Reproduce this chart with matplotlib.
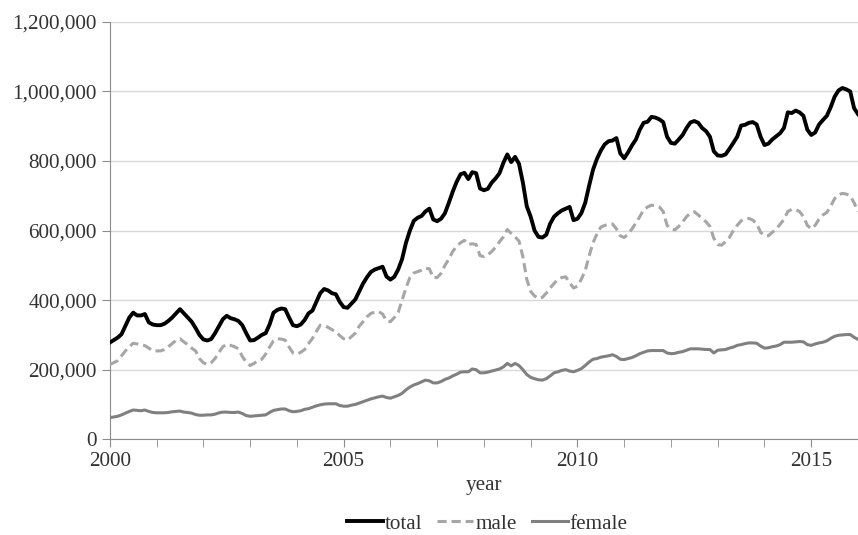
import numpy as np
import matplotlib
matplotlib.use('Agg')
import matplotlib.pyplot as plt
from matplotlib.ticker import FuncFormatter, MultipleLocator

# monthly values, thousands (Jan 2000 .. Jan 2016)
total = [278, 285, 292, 302, 326, 350, 364, 356, 356, 360, 336, 330,
         328, 328, 332, 340, 350, 362, 374, 362, 350, 338, 320, 300,
         287, 284, 288, 305, 325, 345, 355, 348, 345, 340, 328, 305,
         284, 285, 292, 300, 305, 330, 364, 372, 376, 374, 350, 328,
         325, 330, 343, 362, 370, 395, 420, 432, 428, 420, 417, 395,
         380, 378, 390, 402, 425, 448, 466, 481, 488, 492, 496, 468,
         459, 467, 488, 518, 565, 600, 628, 637, 642, 655, 663, 632,
         627, 634, 650, 680, 712, 740, 762, 766, 748, 768, 765, 721,
         716, 720, 738, 750, 765, 795, 819, 797, 812, 792, 738, 670,
         640, 600, 582, 580, 588, 620, 640, 650, 658, 663, 668, 630,
         634, 650, 680, 729, 775, 806, 830, 848, 857, 859, 866, 822,
         808, 825, 845, 862, 890, 910, 913, 927, 925, 920, 912, 870,
         852, 850, 862, 875, 895, 911, 915, 910, 895, 886, 870, 828,
         816, 815, 819, 835, 852, 870, 902, 904, 910, 912, 905, 870,
         846, 850, 862, 871, 880, 895, 940, 938, 945, 940, 930, 890,
         875, 882, 905, 918, 930, 955, 985, 1003, 1010, 1006, 1000, 952,
         935]

male = [215, 220, 226, 240, 254, 266, 276, 274, 272, 269, 262, 254,
        254, 254, 258, 266, 275, 284, 289, 280, 272, 262, 254, 232,
        220, 215, 220, 232, 250, 266, 273, 270, 266, 260, 238, 222,
        212, 218, 226, 230, 245, 265, 283, 289, 288, 285, 265, 248,
        245, 250, 258, 275, 290, 310, 328, 326, 322, 315, 310, 298,
        289, 285, 295, 305, 325, 338, 352, 362, 365, 367, 360, 340,
        338, 350, 365, 400, 435, 465, 478, 482, 486, 492, 490, 465,
        465, 477, 500, 518, 540, 555, 565, 572, 560, 562, 560, 528,
        525, 530, 540, 552, 568, 582, 603, 592, 582, 570, 525, 460,
        425, 412, 405, 408, 420, 435, 448, 460, 465, 467, 450, 435,
        440, 460, 485, 527, 565, 590, 610, 615, 618, 619, 605, 585,
        580, 590, 605, 622, 640, 660, 668, 673, 672, 668, 655, 615,
        605, 602, 612, 625, 640, 650, 654, 645, 635, 625, 612, 578,
        560, 558, 568, 580, 600, 615, 628, 633, 635, 630, 620, 595,
        586, 585, 595, 604, 618, 632, 655, 661, 660, 655, 640, 615,
        605, 615, 633, 645, 652, 670, 692, 703, 707, 705, 700, 680,
        655]

female = [62, 64, 66, 70, 75, 80, 84, 83, 82, 84, 80, 77,
          76, 76, 76, 77, 79, 80, 81, 78, 77, 75, 71, 69,
          69, 70, 70, 72, 76, 78, 78, 77, 77, 78, 74, 68,
          66, 67, 68, 69, 70, 77, 83, 85, 87, 87, 82, 79,
          80, 82, 86, 88, 92, 96, 99, 101, 102, 102, 102, 97,
          95, 95, 98, 100, 104, 108, 112, 116, 119, 122, 124, 120,
          118, 122, 126, 132, 142, 150, 156, 160, 165, 170, 168, 162,
          162, 166, 172, 176, 182, 187, 193, 194, 194, 202, 200, 191,
          191, 193, 196, 199, 202, 208, 218, 211, 218, 212, 200, 186,
          178, 174, 171, 170, 174, 182, 191, 194, 198, 200, 196, 194,
          198, 203, 212, 222, 230, 232, 236, 238, 240, 243, 238, 230,
          229, 232, 235, 240, 246, 250, 254, 255, 255, 255, 255, 248,
          246, 247, 250, 252, 256, 260, 260, 260, 259, 258, 258, 248,
          256, 257, 258, 262, 265, 270, 272, 275, 277, 277, 276, 268,
          262, 263, 266, 268, 272, 279, 279, 279, 280, 281, 280, 272,
          270, 274, 277, 279, 283, 290, 296, 299, 300, 301, 301, 293,
          287]

start_year = 2000
years = start_year + np.arange(len(total)) / 12.0

plt.rcParams['font.family'] = ['Liberation Serif', 'DejaVu Serif']
fs = 15.2
txt_col = '#333333'

fig = plt.figure(figsize=(8.58, 5.35), dpi=100)
ax = fig.add_axes([0.128, 0.179, 0.872, 0.78])

ax.plot(years, np.array(total) * 1000, color='black', lw=2.8, label='total', zorder=4)
ax.plot(years, np.array(male) * 1000, color='#a6a6a6', lw=2.2, ls=(0, (3, 1.6)), label='male', zorder=3)
ax.plot(years, np.array(female) * 1000, color='#808080', lw=2.2, label='female', zorder=3)

ax.set_xlim(2000, 2016)
ax.set_ylim(0, 1200000)
ax.xaxis.set_major_locator(MultipleLocator(5))
ax.xaxis.set_minor_locator(MultipleLocator(1))
ax.yaxis.set_major_locator(MultipleLocator(200000))
ax.yaxis.set_major_formatter(FuncFormatter(lambda v, p: '{:,.0f}'.format(v)))

ax.grid(axis='y', color='#d9d9d9', lw=1)
ax.set_axisbelow(True)
for s in ['top', 'right']:
    ax.spines[s].set_visible(False)
for s in ['left', 'bottom']:
    ax.spines[s].set_color('#8c8c8c')
ax.tick_params(axis='both', which='both', color='#8c8c8c', labelsize=fs, labelcolor=txt_col)
ax.tick_params(axis='x', which='both', length=6)
ax.tick_params(axis='y', length=6)

ax.set_xlabel('year', fontsize=fs, color=txt_col, labelpad=3)

leg = fig.legend(loc='lower center', bbox_to_anchor=(0.568, -0.033), ncol=3, frameon=False,
                 fontsize=fs, handlelength=1.7, handletextpad=0.1, columnspacing=0.7)
for t in leg.get_texts():
    t.set_color(txt_col)

fig.savefig('out.png', dpi=100)
